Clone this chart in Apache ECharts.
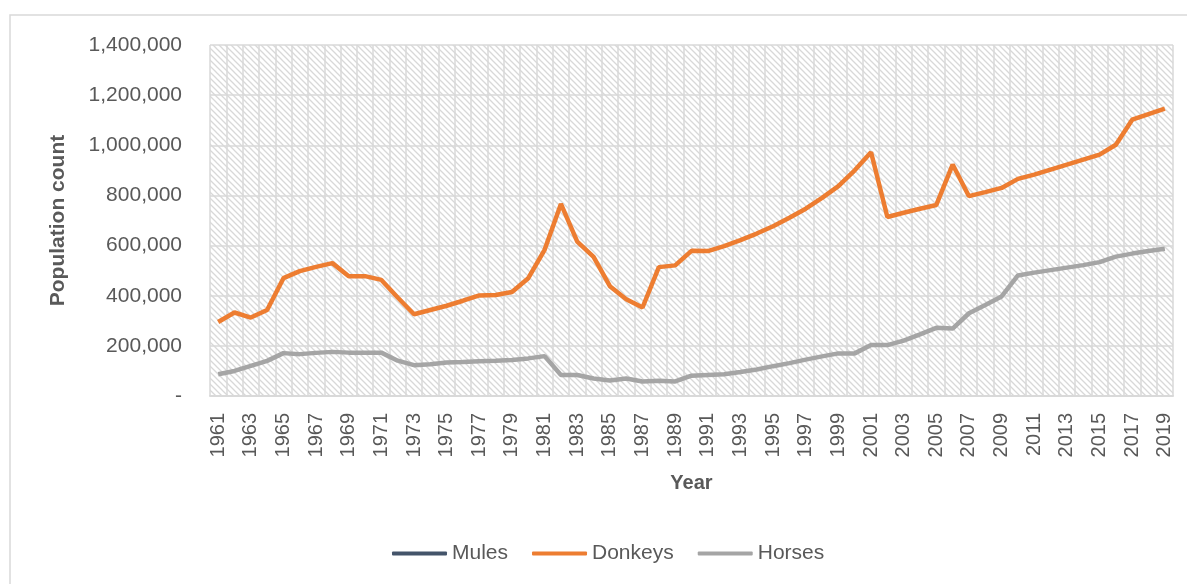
<!DOCTYPE html>
<html>
<head>
<meta charset="utf-8">
<script src="https://cdn.jsdelivr.net/npm/echarts@6/dist/echarts.min.js"></script>
<style>
html,body{margin:0;padding:0;background:#fff;}
#chart{width:1187px;height:584px;}
</style>
</head>
<body>
<div id="chart"></div>
<script>
const years = [];
for (let y = 1961; y <= 2019; y++) years.push(String(y));

const mules = [];

const donkeys = [
  295000, 333000, 313000, 343000, 470000, 498000, 515000, 530000, 478000, 478000,
  463000, 393000, 326000, 343000, 360000, 380000, 401000, 403000, 415000, 470000,
  583000, 766000, 616000, 555000, 438000, 386000, 353000, 514000, 521000, 579000,
  578000, 598000, 622000, 648000, 677000, 711000, 747000, 790000, 837000, 900000,
  972000, 714000, 731000, 747000, 762000, 923000, 797000, 813000, 830000, 866000,
  883000, 903000, 923000, 943000, 963000, 1002000, 1102000, 1124000, 1146000
];

const horses = [
  87000, 100000, 120000, 140000, 171000, 167000, 172000, 176000, 173000, 173000,
  173000, 141000, 123000, 127000, 134000, 136000, 139000, 141000, 144000, 150000,
  159000, 84000, 84000, 70000, 62000, 70000, 58000, 61000, 58000, 81000,
  84000, 87000, 96000, 106000, 119000, 131000, 145000, 158000, 170000, 170000,
  203000, 203000, 221000, 246000, 272000, 269000, 330000, 363000, 397000, 481000,
  492000, 502000, 512000, 522000, 534000, 556000, 568000, 578000, 587000
];

// hatch pattern for plot background
const pc = document.createElement('canvas');
pc.width = 6; pc.height = 6;
const ctx = pc.getContext('2d');
ctx.fillStyle = '#ffffff';
ctx.fillRect(0, 0, 6, 6);
ctx.strokeStyle = '#d8d8d8';
ctx.lineWidth = 1.3;
ctx.beginPath();
ctx.moveTo(-1, -1); ctx.lineTo(7, 7);
ctx.moveTo(-4, 2); ctx.lineTo(4, 10);
ctx.moveTo(2, -4); ctx.lineTo(10, 4);
ctx.stroke();

const font = 'Liberation Sans, Arial, sans-serif';
const chart = echarts.init(document.getElementById('chart'));
chart.setOption({
  animation: false,
  backgroundColor: '#fff',
  color: ['#44546A', '#ED7D31', '#A5A5A5'],
  graphic: [{
    type: 'rect',
    shape: { x: 10, y: 15, width: 1250, height: 650 },
    style: { fill: 'none', stroke: '#d9d9d9', lineWidth: 1.5 },
    silent: true, z: -10
  }],
  grid: {
    left: 210, right: 14, top: 45, bottom: 188,
    show: true,
    backgroundColor: { image: pc, repeat: 'repeat' },
    borderWidth: 0
  },
  legend: {
    left: 387, top: 538,
    icon: 'roundRect',
    itemWidth: 55, itemHeight: 4, itemGap: 24, itemTextGap: 3,
    textStyle: { fontFamily: font, fontSize: 21, color: '#595959' },
    data: ['Mules', 'Donkeys', 'Horses']
  },
  xAxis: {
    type: 'category',
    data: years,
    boundaryGap: true,
    name: 'Year',
    nameLocation: 'middle',
    nameGap: 77,
    nameTextStyle: { fontFamily: font, fontSize: 20, fontWeight: 'bold', color: '#595959' },
    axisLine: { lineStyle: { color: '#d9d9d9', width: 2 } },
    axisTick: { show: false },
    axisLabel: { interval: 1, rotate: 90, margin: 17, fontFamily: font, fontSize: 20, color: '#595959' },
    splitLine: { show: true, interval: 0, lineStyle: { color: '#d9d9d9', width: 1.5 } }
  },
  yAxis: {
    type: 'value',
    min: 0, max: 1400000, interval: 200000,
    name: 'Population count',
    nameLocation: 'middle',
    nameGap: 141,
    nameRotate: 90,
    nameTextStyle: { fontFamily: font, fontSize: 21, fontWeight: 'bold', color: '#595959' },
    axisLine: { show: false },
    axisTick: { show: false },
    axisLabel: {
      margin: 28, fontFamily: font, fontSize: 21, color: '#595959',
      formatter: v => v === 0 ? '-' : v.toLocaleString('en-US')
    },
    splitLine: { show: true, lineStyle: { color: '#d9d9d9', width: 1.5 } }
  },
  series: [
    { name: 'Mules', type: 'line', data: mules, symbol: 'none', lineStyle: { width: 4.5, color: '#44546A' }, itemStyle: { color: '#44546A' } },
    { name: 'Donkeys', type: 'line', data: donkeys, symbol: 'none', lineStyle: { width: 4.5, color: '#ED7D31' }, itemStyle: { color: '#ED7D31' } },
    { name: 'Horses', type: 'line', data: horses, symbol: 'none', lineStyle: { width: 4.5, color: '#A5A5A5' }, itemStyle: { color: '#A5A5A5' } }
  ]
});
</script>
</body>
</html>
